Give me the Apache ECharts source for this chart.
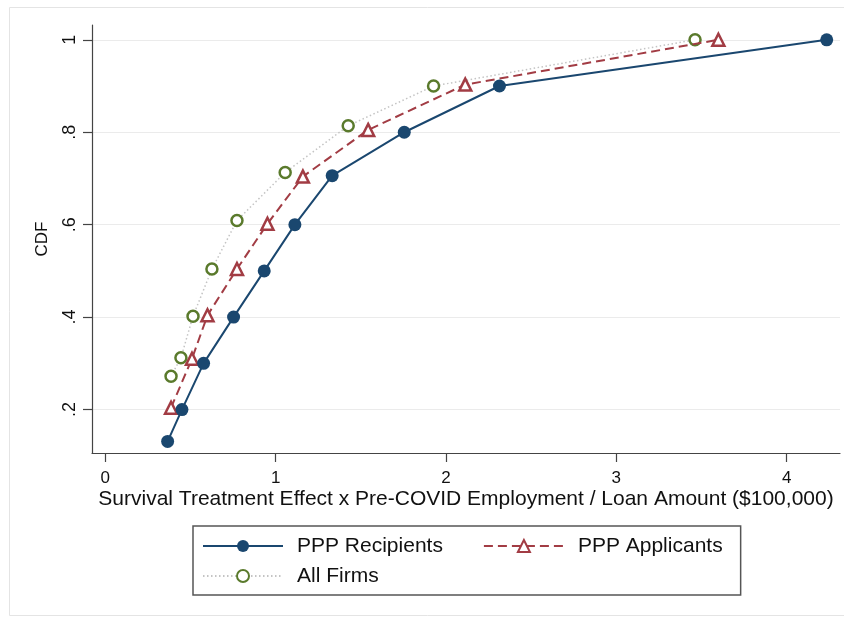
<!DOCTYPE html>
<html>
<head>
<meta charset="utf-8">
<script src="https://cdn.jsdelivr.net/npm/echarts@6/dist/echarts.min.js"></script>
<style>
  html, body { margin: 0; padding: 0; background: #fff; }
  #chart { width: 844px; height: 620px; }
</style>
</head>
<body>
<div id="chart"></div>
<script>
  // CDF points
  const recipX = [0.366, 0.450, 0.577, 0.753, 0.933, 1.113, 1.332, 1.755, 2.314, 4.235]
  const recipY = [0.131, 0.2, 0.3, 0.4, 0.5, 0.6, 0.706, 0.8, 0.9, 1.0]
  const applX = [0.386, 0.509, 0.600, 0.773, 0.952, 1.160, 1.543, 2.113, 3.599]
  const applY = [0.204, 0.310, 0.404, 0.504, 0.602, 0.704, 0.805, 0.903, 1.0]
  const allX = [0.386, 0.444, 0.515, 0.626, 0.773, 1.056, 1.426, 1.927, 3.462]
  const allY = [0.272, 0.312, 0.402, 0.504, 0.609, 0.713, 0.814, 0.900, 1.0]

  const xTicks = [0, 1, 2, 3, 4]
  const yTicks = [0.2, 0.4, 0.6, 0.8, 1]
  const yTickLabels = ['.2', '.4', '.6', '.8', '1']

  const pairs = (xs, ys) => xs.map((x, i) => [x, ys[i]])

  const font = 'Liberation Sans, Arial, sans-serif'
  const axisColor = '#444'

  const chart = echarts.init(document.getElementById('chart'))

  const option = {
    backgroundColor: '#fff',
    animation: false,
    graphic: [
      {
        type: 'rect',
        left: 7, top: 5,
        shape: { width: 1000, height: 608 },
        style: { fill: 'none', stroke: '#e4e4e4', lineWidth: 1 },
        silent: true
      }
    ],
    grid: {
      left: 92, right: 4, top: 25, bottom: 167,
      containLabel: false,
      outerBoundsMode: 'none'
    },
    legend: {
      left: 193, top: 526,
      width: 540,
      orient: 'horizontal',
      padding: [8, 18, 7, 9],
      itemGap: 6,
      itemWidth: 80,
      itemHeight: 15,
      borderColor: '#555',
      borderWidth: 1.5,
      backgroundColor: '#fff',
      textStyle: {
        fontFamily: font, fontSize: 21, color: '#111',
        lineHeight: 24, padding: [0, 0, 0, 9]
      },
      data: [
        { name: 'PPP Recipients', textStyle: { padding: [0, 34, 0, 9] } },
        { name: 'PPP Applicants' },
        { name: 'All Firms' }
      ]
    },
    xAxis: {
      type: 'value',
      min: -0.078, max: 4.313,
      name: 'Survival Treatment Effect x Pre-COVID Employment / Loan Amount ($100,000)',
      nameLocation: 'middle',
      nameGap: 36,
      nameMoveOverlap: false,
      nameTextStyle: { fontFamily: font, fontSize: 21, color: '#111' },
      axisLine: { show: true, onZero: false, lineStyle: { color: axisColor, width: 1.2 } },
      axisTick: { show: true, length: 9, customValues: xTicks, lineStyle: { color: axisColor, width: 1.2 } },
      axisLabel: { customValues: xTicks, margin: 17, fontFamily: font, fontSize: 17, color: '#111' },
      splitLine: { show: false }
    },
    yAxis: {
      type: 'value',
      min: 0.106, max: 1.032,
      name: 'CDF',
      nameLocation: 'middle',
      nameGap: 41,
      nameMoveOverlap: false,
      nameTextStyle: { fontFamily: font, fontSize: 17, color: '#111' },
      axisLine: { show: true, onZero: false, lineStyle: { color: axisColor, width: 1.2 } },
      axisTick: { show: true, length: 9, customValues: yTicks, lineStyle: { color: axisColor, width: 1.2 } },
      axisLabel: {
        customValues: yTicks,
        rotate: 90,
        margin: 13,
        fontFamily: font, fontSize: 18, color: '#111',
        formatter: v => yTickLabels[yTicks.findIndex(t => Math.abs(t - v) < 1e-6)] || ''
      },
      splitLine: { show: true, lineStyle: { color: '#ebebeb', width: 1 } }
    },
    series: [
      {
        name: 'PPP Recipients',
        type: 'line',
        data: pairs(recipX, recipY),
        z: 4,
        symbol: 'circle',
        symbolSize: 13,
        lineStyle: { color: '#1a476f', width: 2 },
        itemStyle: { color: '#1a476f' }
      },
      {
        name: 'PPP Applicants',
        type: 'line',
        data: pairs(applX, applY),
        z: 3,
        symbol: 'triangle',
        symbolSize: 12,
        lineStyle: { color: '#a23c44', width: 2, type: [9, 5] },
        itemStyle: { color: '#fff', borderColor: '#a23c44', borderWidth: 2.5 }
      },
      {
        name: 'All Firms',
        type: 'line',
        data: pairs(allX, allY),
        z: 2,
        symbol: 'circle',
        symbolSize: 11,
        lineStyle: { color: '#c4c4c4', width: 1.5, type: [1.5, 2.5] },
        itemStyle: { color: '#fff', borderColor: '#5a7a2c', borderWidth: 2.5 }
      }
    ]
  }

  chart.setOption(option)
</script>
</body>
</html>
